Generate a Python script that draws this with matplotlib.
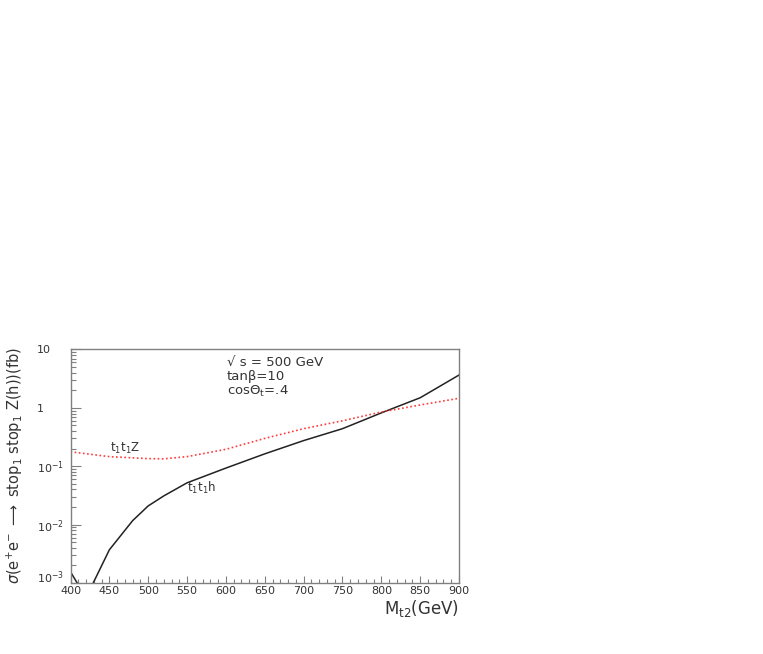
import matplotlib.pyplot as plt
from matplotlib.ticker import FixedLocator, LogLocator, MultipleLocator, NullFormatter

plt.rcParams['font.family'] = ['DejaVu Sans']
plt.rcParams['mathtext.fontset'] = 'dejavusans'

# stop1 stop1 h
mass_h = [400, 420, 450, 480, 500, 520, 550, 600, 650, 700, 750, 800, 850, 900]
sigma_h = [1.55e-3, 5.6e-4, 3.7e-3, 1.17e-2, 2.09e-2, 3.1e-2, 5.2e-2, 9.3e-2,
           0.163, 0.275, 0.44, 0.82, 1.49, 3.65]

# stop1 stop1 Z
mass_z = [400, 450, 500, 520, 550, 600, 650, 700, 750, 800, 850, 900]
sigma_z = [0.177, 0.146, 0.135, 0.134, 0.146, 0.195, 0.30, 0.44, 0.60, 0.85, 1.12, 1.46]

y_ticks = [1e-3, 1e-2, 1e-1, 1, 10]
y_ticklabels = [r'$10^{-3}$', r'$10^{-2}$', r'$10^{-1}$', '1', '10']
x_ticks = [400, 450, 500, 550, 600, 650, 700, 750, 800, 850, 900]

gray = '#808080'
txt = '#333333'

fig = plt.figure(figsize=(7.63, 6.54), dpi=100)
ax = fig.add_axes([0.0924, 0.1086, 0.5092, 0.357])

ax.plot(mass_h, sigma_h, color='#222222', lw=1.1)
ax.plot(mass_z, sigma_z, color='#ff3b3b', lw=1.2, ls=(0, (1, 1.5)))

ax.set_yscale('log')
ax.set_xlim(400, 900)
ax.set_ylim(1e-3, 10)

ax.xaxis.set_major_locator(FixedLocator(x_ticks))
ax.xaxis.set_minor_locator(MultipleLocator(10))
ax.set_xticklabels([str(v) for v in x_ticks])
ax.yaxis.set_major_locator(FixedLocator(y_ticks))
ax.yaxis.set_minor_locator(LogLocator(base=10, subs=range(2, 10)))
ax.yaxis.set_minor_formatter(NullFormatter())
ax.set_yticklabels(y_ticklabels)
for lab in ax.get_yticklabels():
    lab.set_horizontalalignment('left')
# lowest label sits on its tick, clear of the "400" below
ax.get_yticklabels()[0].set_verticalalignment('baseline')

ax.tick_params(axis='x', which='major', direction='in', length=5, width=0.8,
               color=gray, labelsize=8, labelcolor=txt, pad=2.5)
ax.tick_params(axis='x', which='minor', direction='in', length=2.8, width=0.8, color=gray)
ax.tick_params(axis='y', which='major', direction='in', length=7, width=0.8,
               color=gray, labelsize=8, labelcolor=txt, pad=24)
ax.tick_params(axis='y', which='minor', direction='in', length=3.8, width=0.8, color=gray)
ax.tick_params(top=False, right=False, which='both')

for sp in ax.spines.values():
    sp.set_color(gray)
    sp.set_linewidth(1.0)

ax.text(0.403, 0.944, '√ s = 500 GeV', transform=ax.transAxes, fontsize=9.5,
        color=txt, va='center', ha='left')
ax.text(0.403, 0.884, 'tanβ=10', transform=ax.transAxes, fontsize=9.5,
        color=txt, va='center', ha='left')
ax.text(0.403, 0.820, r'cosΘ$_{\rm t}$=.4', transform=ax.transAxes, fontsize=9.5,
        color=txt, va='center', ha='left')

ax.text(451, 0.205, r't$_1$t$_1$Z', fontsize=8.5, color=txt, va='center', ha='left')
ax.text(550, 0.0424, r't$_1$t$_1$h', fontsize=8.5, color=txt, va='center', ha='left')

ax.text(1.0, -0.108, r'M$_{\rm t2}$(GeV)', transform=ax.transAxes, fontsize=12,
        color=txt, va='center', ha='right')

fig.text(15 / 763, 1 - 466 / 654,
         r'$\sigma$(e$^{+}$e$^{-}$ $\longrightarrow$ stop$_1$ stop$_1$ Z(h))(fb)',
         rotation=90, fontsize=10.5, color=txt, va='center', ha='center')

fig.savefig('out.png', dpi=100)
